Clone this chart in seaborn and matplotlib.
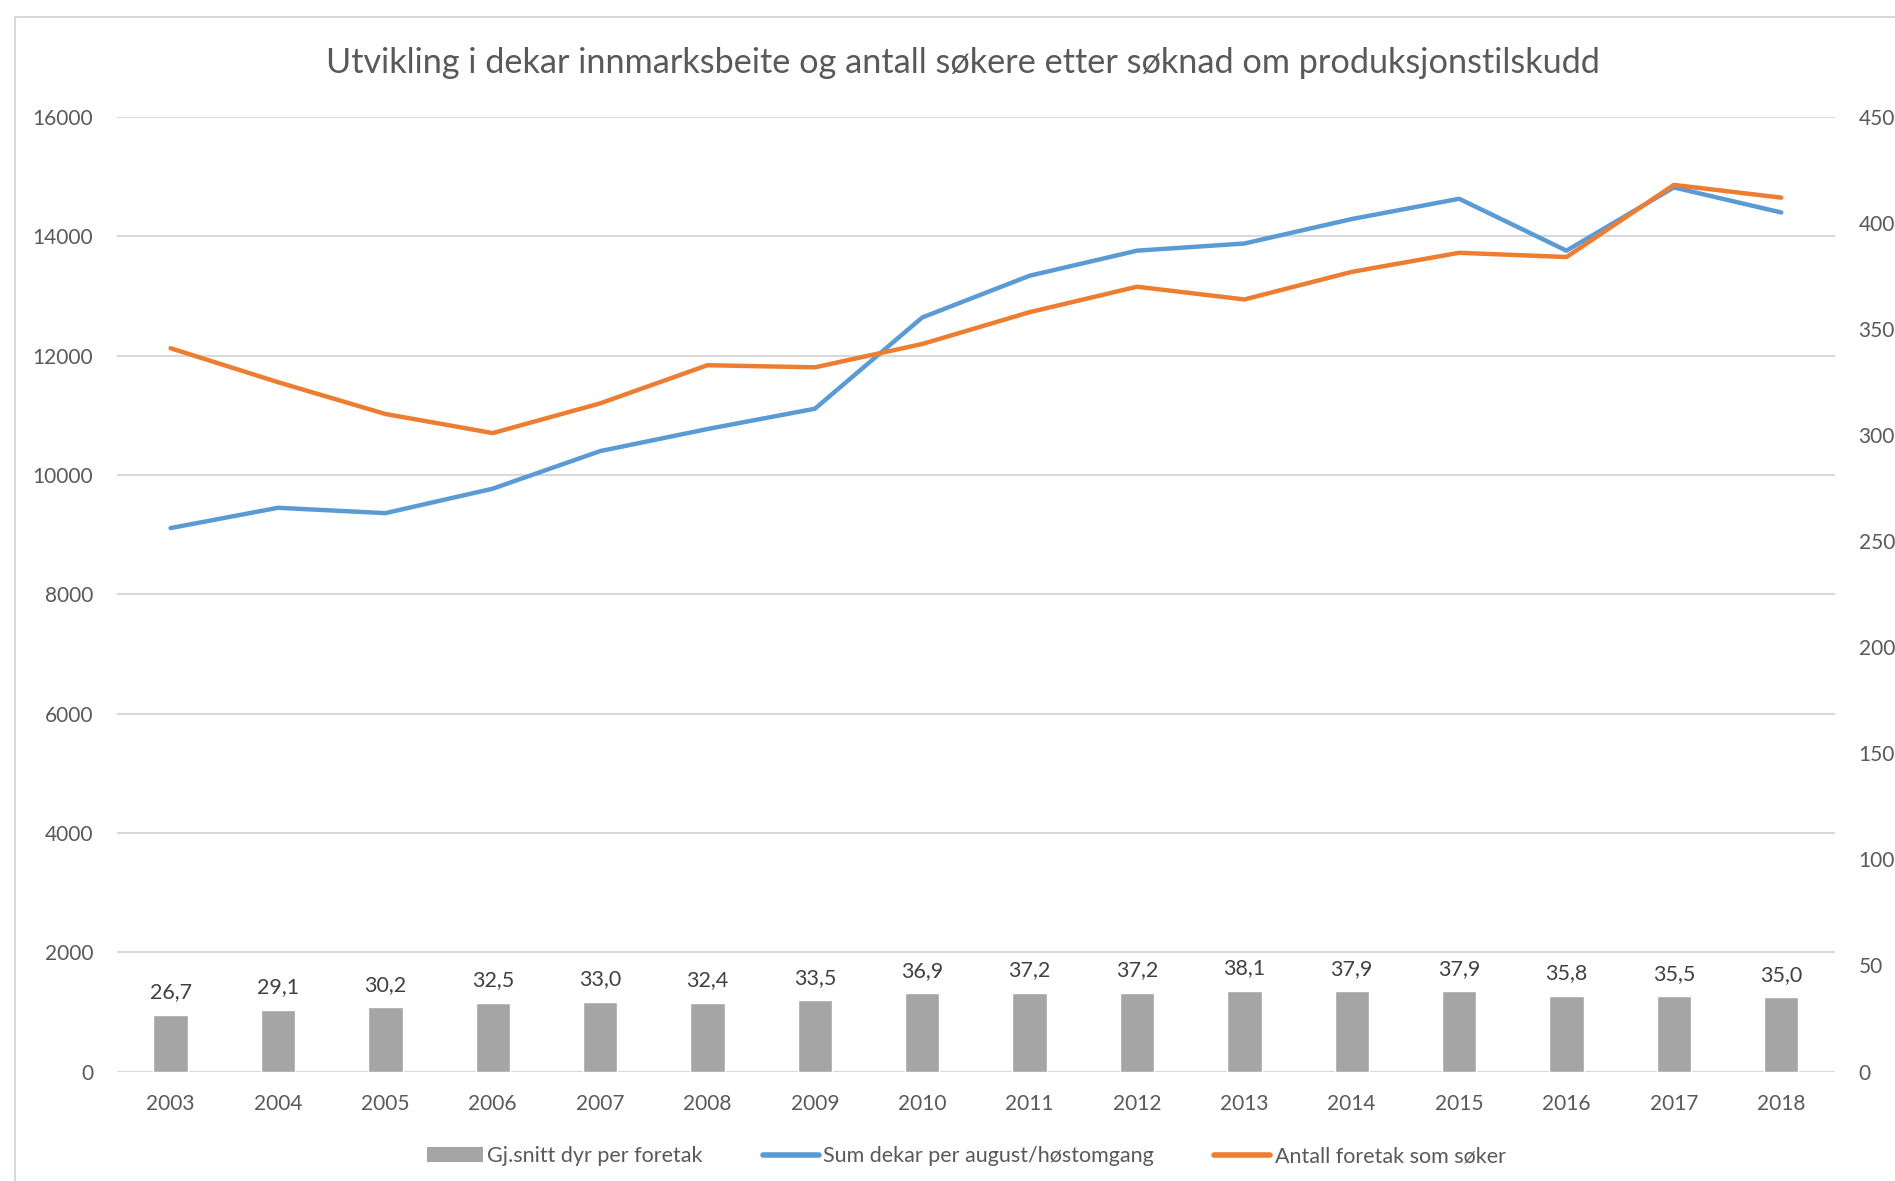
import numpy as np
import pandas as pd
import seaborn as sns
import matplotlib.pyplot as plt
from matplotlib.patches import Rectangle
from matplotlib.lines import Line2D
from matplotlib.patches import Patch

years = ["2003", "2004", "2005", "2006", "2007", "2008", "2009", "2010",
         "2011", "2012", "2013", "2014", "2015", "2016", "2017", "2018"]
dyr_per_foretak = [26.7, 29.1, 30.2, 32.5, 33.0, 32.4, 33.5, 36.9,
                   37.2, 37.2, 38.1, 37.9, 37.9, 35.8, 35.5, 35.0]
sum_dekar = [9110, 9450, 9360, 9770, 10400, 10770, 11110, 12640,
             13340, 13760, 13880, 14290, 14630, 13760, 14820, 14400]
antall_foretak = [341, 325, 310, 301, 315, 333, 332, 343,
                  358, 370, 364, 377, 386, 384, 418, 412]

BLUE = "#5B9BD5"
ORANGE = "#ED7D31"
GRAY = "#A5A5A5"
TXT = "#595959"

sns.set_style("white")
plt.rcParams["font.family"] = ["Lato", "DejaVu Sans"]

df = pd.DataFrame({"year": years, "dyr": dyr_per_foretak,
                   "dekar": sum_dekar, "foretak": antall_foretak})
df["pos"] = np.arange(len(years))

fig = plt.figure(figsize=(18.95, 11.81), dpi=100)
ax = fig.add_axes([0.0617, 0.0927, 0.9066, 0.8082])
ax2 = ax.twinx()

# left axis: sum dekar
sns.lineplot(data=df, x="pos", y="dekar", ax=ax, color=BLUE, linewidth=3.2,
             solid_capstyle="round", legend=False)

# right axis: bars + antall foretak
sns.barplot(data=df, x="pos", y="dyr", ax=ax2, color=GRAY, width=0.32,
            saturation=1, native_scale=True)
sns.lineplot(data=df, x="pos", y="foretak", ax=ax2, color=ORANGE, linewidth=3.2,
             solid_capstyle="round", legend=False)
ax2.bar_label(ax2.containers[0],
              labels=[f"{v:.1f}".replace(".", ",") for v in dyr_per_foretak],
              padding=9, fontsize=15.5, color="#404040")

ax.set_xlim(-0.5, len(years) - 0.5)
ax.set_ylim(0, 16000)
ax2.set_ylim(0, 450)
ax.set_yticks(range(0, 16001, 2000))
ax2.set_yticks(range(0, 451, 50))
ax.set_xticks(df["pos"])
ax.set_xticklabels(years)
ax.grid(axis="y", color="#D9D9D9", linewidth=1.5)
ax.set_axisbelow(True)
for a in (ax, ax2):
    for s in a.spines.values():
        s.set_visible(False)
    a.set_xlabel("")
    a.set_ylabel("")
    a.tick_params(length=0, labelsize=15, labelcolor=TXT)
ax.tick_params(axis="y", pad=17)
ax.tick_params(axis="x", pad=16)
ax2.tick_params(axis="y", pad=17)
ax.axhline(0, color="#D9D9D9", linewidth=1.5)

fig.text(0.508, 0.947, "Utvikling i dekar innmarksbeite og antall søkere etter søknad om produksjonstilskudd",
         ha="center", va="center", fontsize=24.7, color=TXT)

handles = [Patch(facecolor=GRAY, edgecolor="none"),
           Line2D([0], [0], color=BLUE, linewidth=4),
           Line2D([0], [0], color=ORANGE, linewidth=4)]
labels = ["Gj.snitt dyr per foretak", "Sum dekar per august/høstomgang",
          "Antall foretak som søker"]
fig.legend(handles, labels, loc="center", bbox_to_anchor=(0.51, 0.021), ncol=3,
           frameon=False, fontsize=15.5, labelcolor=TXT, handlelength=2.6,
           handletextpad=0.2, columnspacing=2.8)

# chart area frame
fig.patches.append(Rectangle((15 / 1895, -0.1), 1.2, 1 - 17 / 1181 + 0.1,
                             transform=fig.transFigure, fill=False,
                             edgecolor="#D9D9D9", linewidth=1.5))

fig.savefig("out.png", dpi=100)
